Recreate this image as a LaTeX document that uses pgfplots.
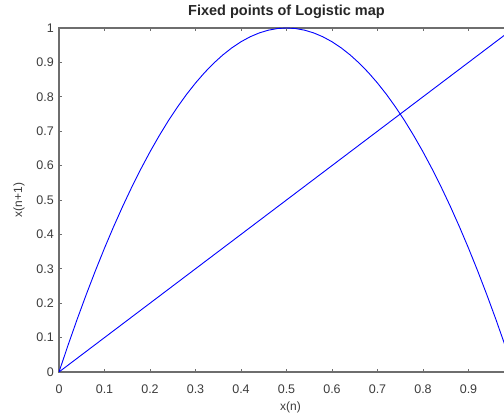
\documentclass[border=0pt]{standalone}
\usepackage{fontspec}
\setmainfont{Liberation Sans}
\usepackage{pgfplots}
\pgfplotsset{compat=1.18}
\definecolor{axgray}{HTML}{6E6E6E}
\definecolor{txtgray}{HTML}{3C3C3C}
\begin{document}
\begin{tikzpicture}[x=1pt,y=1pt]
\begin{scope}
\clip (-59,-42) rectangle (445,372);
\begin{axis}[
  name=ax, at={(0,0)}, anchor=origin,
  scale only axis, width=455pt, height=344pt,
  xmin=0, xmax=1, ymin=0, ymax=1,
  xtick={0,0.1,0.2,0.3,0.4,0.5,0.6,0.7,0.8,0.9},
  ytick={0,0.1,0.2,0.3,0.4,0.5,0.6,0.7,0.8,0.9,1},
  tick align=inside, major tick length=3pt,
  every tick/.style={axgray, line width=0.8pt},
  axis line style={axgray, line width=1.3pt},
  /pgf/number format/assume math mode=true,
  /pgf/number format/fixed,
  ticklabel style={font=\fontsize{12.5}{14}\selectfont, text=txtgray, inner sep=0pt},
  xticklabel style={anchor=north, yshift=-13pt},
  yticklabel style={anchor=east, xshift=-5pt},
  title={\textbf{Fixed points of Logistic map}},
  title style={at={(0.5,1)}, anchor=base, yshift=6pt, font=\fontsize{14.5}{16}\selectfont, text=black!85},
  xlabel={x(n)}, ylabel={x(n+1)},
  label style={font=\fontsize{12}{14}\selectfont, text=txtgray},
  xlabel style={at={(0.5,0)}, anchor=center, yshift=-35pt, xshift=4pt},
  ylabel style={at={(0,0.5)}, anchor=center, yshift=40pt},
  clip=true,
]
\addplot[blue, line width=0.9pt] coordinates {
(0,0) (0.02,0.0784) (0.04,0.1536) (0.06,0.2256) (0.08,0.2944) (0.10,0.36)
(0.12,0.4224) (0.14,0.4816) (0.16,0.5376) (0.18,0.5904) (0.20,0.64)
(0.22,0.6864) (0.24,0.7296) (0.26,0.7696) (0.28,0.8064) (0.30,0.84)
(0.32,0.8704) (0.34,0.8976) (0.36,0.9216) (0.38,0.9424) (0.40,0.96)
(0.42,0.9744) (0.44,0.9856) (0.46,0.9936) (0.48,0.9984) (0.50,1)
(0.52,0.9984) (0.54,0.9936) (0.56,0.9856) (0.58,0.9744) (0.60,0.96)
(0.62,0.9424) (0.64,0.9216) (0.66,0.8976) (0.68,0.8704) (0.70,0.84)
(0.72,0.8064) (0.74,0.7696) (0.76,0.7296) (0.78,0.6864) (0.80,0.64)
(0.82,0.5904) (0.84,0.5376) (0.86,0.4816) (0.88,0.4224) (0.90,0.36)
(0.92,0.2944) (0.94,0.2256) (0.96,0.1536) (0.98,0.0784) (1,0)
};
\addplot[blue, line width=0.9pt] coordinates {(0,0) (1,1)};
\end{axis}
\end{scope}
\pgfresetboundingbox
\useasboundingbox (-59,-42) rectangle (445,372);
\end{tikzpicture}
\end{document}
